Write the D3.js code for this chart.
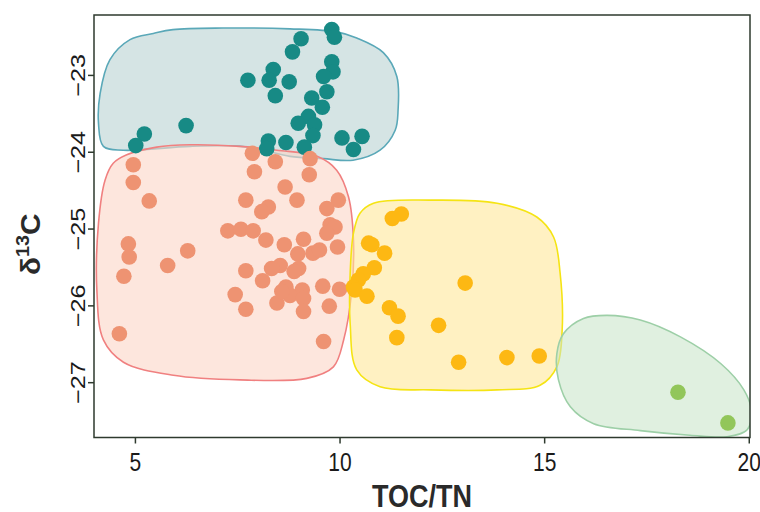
<!DOCTYPE html>
<html>
<head>
<meta charset="utf-8">
<script src="https://cdn.jsdelivr.net/npm/d3@7"></script>
<style>
  html, body { margin: 0; padding: 0; background: #ffffff; }
  svg { display: block; font-family: "Liberation Sans", Arial, sans-serif; }
</style>
</head>
<body>
<svg id="chart" width="760" height="512"></svg>
<script>
// TOC/TN ratio vs δ13C, four sample groups with enclosing outlines

const groupNames = ["marine", "mixed", "transitional", "terrestrial"];

// points: [TOC/TN, δ13C]
const marinePoints = [
  [9.81, -22.41], [9.875, -22.51], [9.06, -22.53], [8.85, -22.70], [9.81, -22.83],
  [9.84, -22.96], [9.61, -23.02], [9.69, -23.22], [9.32, -23.30], [9.58, -23.42],
  [9.24, -23.54], [8.99, -23.63], [9.39, -23.65], [9.35, -23.79], [9.14, -23.94],
  [8.38, -22.93], [8.28, -23.07], [7.76, -23.07], [8.77, -23.09], [8.43, -23.27],
  [6.25, -23.66], [5.23, -23.77], [5.02, -23.92], [8.26, -23.86], [8.22, -23.96],
  [8.69, -23.88], [10.06, -23.82], [10.55, -23.80], [10.34, -23.97]
];
const mixedPoints = [
  [4.96, -24.17], [4.96, -24.40], [5.35, -24.64], [4.84, -25.20], [4.86, -25.37],
  [4.73, -25.62], [4.62, -26.37], [5.80, -25.48], [6.29, -25.29], [7.87, -24.02],
  [7.92, -24.26], [8.43, -24.13], [9.28, -24.09], [9.26, -24.30], [8.67, -24.46],
  [8.96, -24.63], [7.71, -24.63], [8.26, -24.72], [8.10, -24.78], [9.97, -24.63],
  [9.69, -24.74], [9.77, -24.95], [9.89, -24.98], [9.69, -25.06], [7.27, -25.03],
  [7.59, -25.01], [7.89, -25.03], [8.20, -25.15], [8.65, -25.21], [9.12, -25.14],
  [8.98, -25.33], [9.35, -25.32], [9.51, -25.28], [9.95, -25.24], [8.55, -25.48],
  [8.34, -25.52], [9.00, -25.52], [8.89, -25.56], [7.71, -25.55], [8.12, -25.68],
  [9.59, -25.75], [10.00, -25.79], [8.69, -25.76], [9.09, -25.80], [8.79, -25.87],
  [7.45, -25.86], [8.47, -25.97], [9.12, -25.91], [9.12, -26.08], [7.71, -26.05],
  [9.75, -26.01], [9.61, -26.47], [8.59, -25.82]
];
const transitionalPoints = [
  [11.51, -24.81], [11.29, -24.87], [10.71, -25.19], [10.79, -25.21], [11.10, -25.32],
  [10.85, -25.51], [10.58, -25.59], [10.46, -25.67], [10.34, -25.76], [10.38, -25.80],
  [10.67, -25.88], [13.07, -25.71], [11.22, -26.03], [11.43, -26.14], [11.40, -26.42],
  [12.42, -26.26], [12.91, -26.74], [14.09, -26.68], [14.88, -26.66]
];
const terrestrialPoints = [
  [18.27, -27.13], [19.49, -27.53]
];

// enclosing outlines (smoothed closed curves), [TOC/TN, δ13C]
const marineOutline = [
  [5.45, -22.46], [4.88, -22.54], [4.39, -22.80], [4.15, -23.24], [4.11, -23.63],
  [4.23, -23.93], [4.71, -23.98], [6.35, -23.93], [7.57, -23.93], [8.13, -23.98],
  [8.79, -24.06], [9.60, -24.09], [10.33, -24.11], [10.99, -23.98], [11.36, -23.72],
  [11.43, -23.46], [11.40, -23.02], [11.07, -22.71], [10.42, -22.52], [9.93, -22.44],
  [8.79, -22.40], [7.15, -22.39], [5.93, -22.41]
];
const mixedOutline = [
  [4.80, -24.04], [5.53, -23.94], [6.35, -23.91], [7.57, -23.93], [8.47, -23.98],
  [9.45, -24.06], [9.93, -24.24], [10.22, -24.59], [10.34, -25.15], [10.30, -25.80],
  [10.10, -26.45], [9.85, -26.80], [9.20, -26.95], [7.57, -26.97], [5.94, -26.91],
  [4.72, -26.74], [4.23, -26.45], [4.07, -25.80], [4.11, -24.93], [4.27, -24.37],
  [4.47, -24.15]
];
const transitionalOutline = [
  [10.83, -24.67], [12.22, -24.63], [13.85, -24.67], [14.82, -24.85], [15.23, -25.11],
  [15.39, -25.58], [15.44, -26.32], [15.31, -26.80], [14.90, -27.04], [13.85, -27.10],
  [12.22, -27.10], [10.99, -27.06], [10.42, -26.84], [10.26, -26.24], [10.26, -25.58],
  [10.34, -25.06], [10.50, -24.80]
];
const terrestrialOutline = [
  [15.47, -26.37], [15.96, -26.17], [16.54, -26.13], [17.35, -26.19], [18.33, -26.41],
  [19.32, -26.76], [19.88, -27.10], [20.06, -27.36], [19.96, -27.62], [19.47, -27.71],
  [18.56, -27.69], [17.35, -27.63], [16.21, -27.54], [15.64, -27.32], [15.35, -26.97],
  [15.31, -26.63]
];

const xTicks = [5, 10, 15, 20];
const yTicks = [-23, -24, -25, -26, -27];
const xTitle = "TOC/TN";

const pointColors = ["#178a85", "#ee9372", "#fdb813", "#92c65a"];
const fillColors = ["#c5dada", "#fcd6c8", "#ffe89a", "#c6e3c6"];
const fillOpacity = [0.72, 0.62, 0.6, 0.55];
const strokeColors = ["#5aa8b8", "#f08080", "#f5e414", "#9dcfa7"];

const groups = [
  { points: marinePoints, outline: marineOutline },
  { points: mixedPoints, outline: mixedOutline },
  { points: transitionalPoints, outline: transitionalOutline },
  { points: terrestrialPoints, outline: terrestrialOutline }
];

const svg = d3.select("#chart");
const plot = { left: 94, right: 750, top: 15, bottom: 437.5 };

const x = d3.scaleLinear().domain([4, 20.03]).range([plot.left, plot.right]);
const y = d3.scaleLinear().domain([-27.72, -22.22]).range([plot.bottom, plot.top]);

svg.append("defs").append("clipPath").attr("id", "plotClip")
  .append("rect")
  .attr("x", plot.left).attr("y", plot.top)
  .attr("width", plot.right - plot.left).attr("height", plot.bottom - plot.top);

const area = svg.append("g").attr("clip-path", "url(#plotClip)");

const outlineLine = d3.line()
  .x(d => x(d[0])).y(d => y(d[1]))
  .curve(d3.curveCatmullRomClosed.alpha(0.5));

area.selectAll("path.outline")
  .data(groups)
  .join("path")
  .attr("class", "outline")
  .attr("d", g => outlineLine(g.outline))
  .attr("fill", (g, i) => fillColors[i])
  .attr("fill-opacity", (g, i) => fillOpacity[i])
  .attr("stroke", (g, i) => strokeColors[i])
  .attr("stroke-width", 1.6);

groups.forEach((g, i) => {
  area.append("g")
    .selectAll("circle")
    .data(g.points)
    .join("circle")
    .attr("cx", d => x(d[0]))
    .attr("cy", d => y(d[1]))
    .attr("r", 7.8)
    .attr("fill", pointColors[i]);
});

const axisColor = "#2e3a2e";

// frame
svg.append("rect")
  .attr("x", plot.left).attr("y", plot.top)
  .attr("width", plot.right - plot.left).attr("height", plot.bottom - plot.top)
  .attr("fill", "none").attr("stroke", axisColor).attr("stroke-width", 1.5);

const xAxis = svg.append("g")
  .attr("font-family", null)
  .attr("transform", `translate(0,${plot.bottom})`)
  .call(d3.axisBottom(x).tickValues(xTicks).tickSize(6).tickFormat(d3.format("d")));
xAxis.attr("font-family", null).attr("font-size", null);
xAxis.select(".domain").remove();
xAxis.selectAll(".tick line").attr("stroke", axisColor).attr("stroke-width", 1.5);
// labels are drawn a little taller than wide
xAxis.selectAll(".tick text")
  .attr("y", 0)
  .attr("dy", 0)
  .attr("transform", "translate(0,33) scale(1,1.25)")
  .attr("fill", "#1a1a1a")
  .style("font-size", "21px");

const yAxis = svg.append("g")
  .attr("transform", `translate(${plot.left},0)`)
  .call(d3.axisLeft(y).tickValues(yTicks).tickSize(6).tickFormat(d3.format("d")));
yAxis.attr("font-family", null).attr("font-size", null);
yAxis.select(".domain").remove();
yAxis.selectAll(".tick line").attr("stroke", axisColor).attr("stroke-width", 1.5);
yAxis.selectAll(".tick text")
  .attr("transform", "rotate(-90) scale(1.2,1)")
  .attr("x", 0)
  .attr("y", -9)
  .attr("dy", "0")
  .attr("text-anchor", "middle")
  .attr("fill", "#1a1a1a")
  .style("font-size", "21px");

// axis titles
svg.append("text")
  .attr("transform", `translate(${(plot.left + plot.right) / 2},507) scale(1,1.15)`)
  .attr("text-anchor", "middle")
  .attr("font-weight", "bold")
  .attr("font-size", 27)
  .attr("fill", "#2a2a2a")
  .text(xTitle);

const yTitle = svg.append("text")
  .attr("transform", `translate(40,${(plot.top + plot.bottom) / 2 + 18}) rotate(-90) scale(1.1,1)`)
  .attr("text-anchor", "middle")
  .attr("font-weight", "bold")
  .attr("font-size", 27)
  .attr("fill", "#2a2a2a");
yTitle.append("tspan").text("δ");
yTitle.append("tspan").attr("font-size", 18).attr("dy", -11).text("13");
yTitle.append("tspan").attr("dy", 11).text("C");
</script>
</body>
</html>
